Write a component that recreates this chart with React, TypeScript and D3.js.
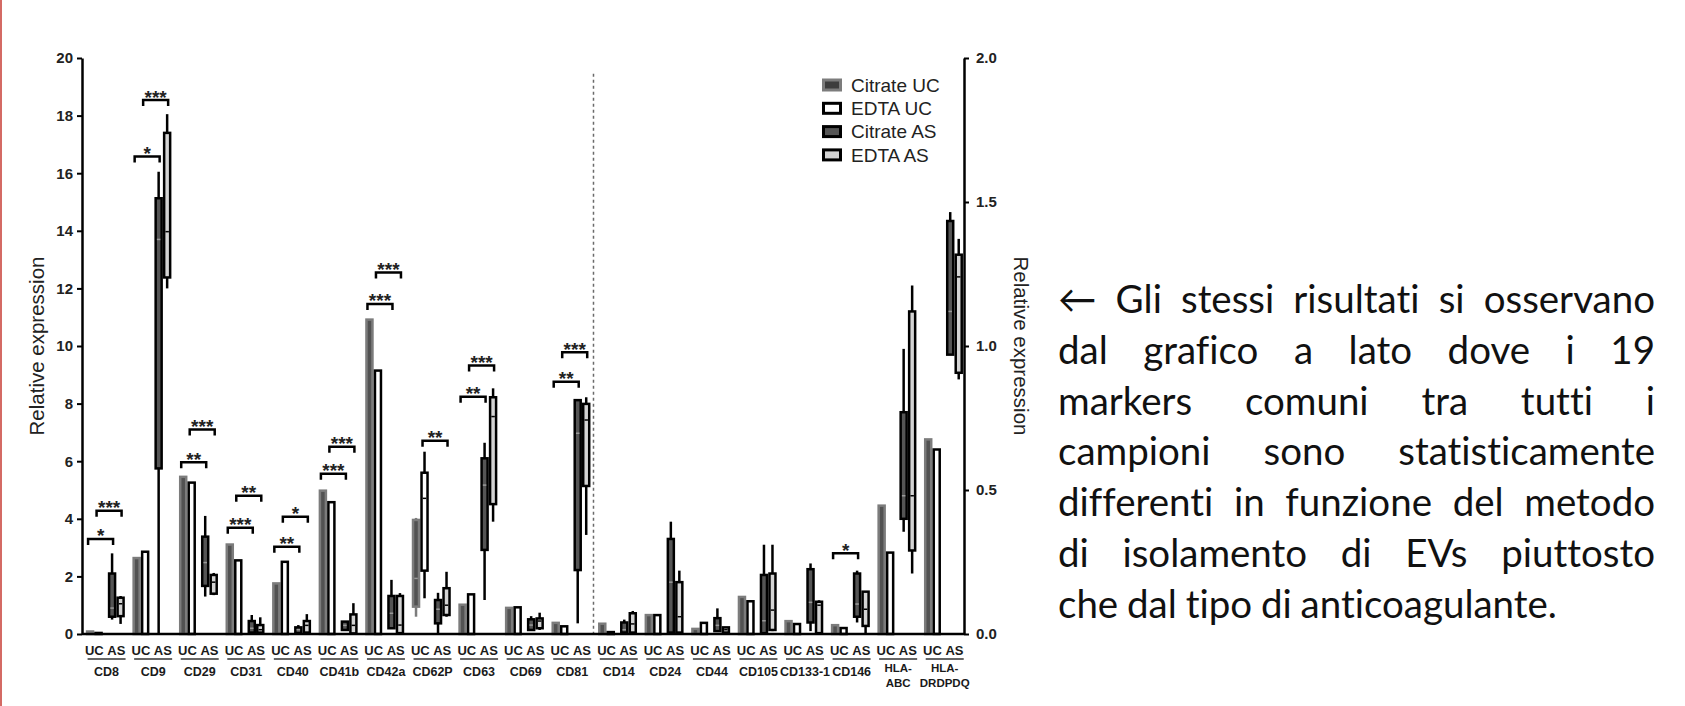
import React, { useEffect, useRef } from 'react';
import * as d3 from 'd3';

// a number is a bar height, an array is a box: [whiskerLow, q1, median, q3, whiskerHigh]
type Val = number | number[];

const categories = ['CD8', 'CD9', 'CD29', 'CD31', 'CD40', 'CD41b', 'CD42a', 'CD62P', 'CD63', 'CD69', 'CD81',
    'CD14', 'CD24', 'CD44', 'CD105', 'CD133-1', 'CD146', 'HLA-ABC', 'HLA-DRDPDQ'];
// markers right of the dotted line are read on the right axis (0 - 2.0)
const rightAxisCategories = ['CD14', 'CD24', 'CD44', 'CD105', 'CD133-1', 'CD146', 'HLA-ABC', 'HLA-DRDPDQ'];

const seriesNames = ['Citrate UC', 'EDTA UC', 'Citrate AS', 'EDTA AS'];

const citrateUC: Val[] = [0.13, 2.68, 5.5, 3.15, 1.8, 5.02, 10.96, [0.6, 0.95, 1.93, 3.96, 4.03], 1.06, 0.95, 0.43,
    0.04, 0.07, 0.022, 0.133, 0.049, 0.035, 0.45, 0.68];
const edtaUC: Val[] = [0.08, 2.9, 5.3, 2.6, 2.55, 4.62, 9.19, [1.24, 2.2, 4.71, 5.6, 6.33], 1.42, 0.97, 0.31,
    0.011, 0.07, 0.043, 0.118, 0.039, 0.025, 0.287, 0.645];
const citrateAS: Val[] = [
    [0.5, 0.6, 0.9, 2.1, 2.8], [0, 5.75, 13.7, 15.13, 16.05], [1.3, 1.67, 2.48, 3.38, 4.1], [0, 0.05, 0.2, 0.45, 0.66],
    [0, 0.03, 0.15, 0.23, 0.31], [0.14, 0.14, 0.3, 0.43, 0.43], [0.2, 0.2, 0.72, 1.32, 1.88], [0, 0.37, 0.86, 1.18, 1.43],
    [1.18, 2.92, 5.17, 6.1, 6.64], [0.14, 0.14, 0.31, 0.51, 0.62], [0.37, 2.22, 6.97, 8.12, 8.15],
    [0.005, 0.005, 0.015, 0.04, 0.05], [0, 0.005, 0.18, 0.33, 0.39], [0.01, 0.01, 0.03, 0.055, 0.089],
    [0, 0.003, 0.046, 0.205, 0.31], [0.01, 0.04, 0.11, 0.225, 0.245], [0.04, 0.06, 0.104, 0.21, 0.22],
    [0.355, 0.4, 0.48, 0.77, 0.99], [0.97, 0.97, 1.12, 1.434, 1.465]];
const edtaAS: Val[] = [
    [0.35, 0.62, 1.05, 1.26, 1.32], [12.0, 12.38, 13.97, 17.4, 18.05], [1.35, 1.4, 1.8, 2.05, 2.12], [0, 0.05, 0.15, 0.31, 0.58],
    [0, 0.05, 0.3, 0.45, 0.69], [0, 0.02, 0.3, 0.68, 1.07], [0, 0.03, 0.31, 1.32, 1.42], [0.6, 0.66, 1.0, 1.59, 2.16],
    [3.9, 4.51, 7.55, 8.22, 8.53], [0.14, 0.2, 0.45, 0.54, 0.74], [3.44, 5.14, 7.43, 7.99, 8.22],
    [0.005, 0.005, 0.035, 0.072, 0.08], [0, 0.005, 0.06, 0.18, 0.22], [0.005, 0.005, 0.015, 0.023, 0.023],
    [0.01, 0.014, 0.083, 0.21, 0.31], [0, 0.003, 0.1, 0.112, 0.117], [0, 0.028, 0.086, 0.147, 0.147],
    [0.21, 0.29, 0.48, 1.12, 1.21], [0.884, 0.907, 1.24, 1.317, 1.372]];

const leftTicks = [0, 2, 4, 6, 8, 10, 12, 14, 16, 18, 20];
const rightTicks = [0, 0.5, 1.0, 1.5, 2.0];

// UC vs AS comparisons (bracket level in axis units)
const significance = [
    { marker: 'CD8', pair: 'Citrate', level: 3.3, stars: '*' },
    { marker: 'CD8', pair: 'EDTA', level: 4.28, stars: '***' },
    { marker: 'CD9', pair: 'Citrate', level: 16.58, stars: '*' },
    { marker: 'CD9', pair: 'EDTA', level: 18.54, stars: '***' },
    { marker: 'CD29', pair: 'Citrate', level: 5.96, stars: '**' },
    { marker: 'CD29', pair: 'EDTA', level: 7.1, stars: '***' },
    { marker: 'CD31', pair: 'Citrate', level: 3.69, stars: '***' },
    { marker: 'CD31', pair: 'EDTA', level: 4.8, stars: '**' },
    { marker: 'CD40', pair: 'Citrate', level: 3.03, stars: '**' },
    { marker: 'CD40', pair: 'EDTA', level: 4.07, stars: '*' },
    { marker: 'CD41b', pair: 'Citrate', level: 5.56, stars: '***' },
    { marker: 'CD41b', pair: 'EDTA', level: 6.5, stars: '***' },
    { marker: 'CD42a', pair: 'Citrate', level: 11.46, stars: '***' },
    { marker: 'CD42a', pair: 'EDTA', level: 12.55, stars: '***' },
    { marker: 'CD62P', pair: 'EDTA', level: 6.71, stars: '**' },
    { marker: 'CD63', pair: 'Citrate', level: 8.24, stars: '**' },
    { marker: 'CD63', pair: 'EDTA', level: 9.32, stars: '***' },
    { marker: 'CD81', pair: 'Citrate', level: 8.76, stars: '**' },
    { marker: 'CD81', pair: 'EDTA', level: 9.78, stars: '***' },
    { marker: 'CD146', pair: 'Citrate', level: 0.28, stars: '*' },
];

const paragraph = [
    '\u2190 Gli stessi risultati si osservano',
    'dal grafico a lato dove i 19',
    'markers comuni tra tutti i',
    'campioni sono statisticamente',
    'differenti in funzione del metodo',
    'di isolamento di EVs piuttosto',
    'che dal tipo di anticoagulante.',
];

const seriesStyle: Record<string, { fill: string, stroke: string, median: string }> = {
    'Citrate UC': { fill: '#525252', stroke: '#7c7c7c', median: '#9a9a9a' },
    'EDTA UC': { fill: '#ffffff', stroke: '#000000', median: '#000000' },
    'Citrate AS': { fill: '#555555', stroke: '#000000', median: '#9a9a9a' },
    'EDTA AS': { fill: '#d4d4d4', stroke: '#000000', median: '#000000' },
};

function draw(svgEl: SVGSVGElement) {
    // SETTINGS
    const width = 1685;
    const height = 706;
    const axisLeftX = 82;
    const axisRightX = 964;
    const plotTop = 58;
    const baseY = 634;
    const barW = 8.5;
    const sw = 2.5;
    const font = '"Liberation Sans", Arial, sans-serif';

    const svg = d3.select(svgEl);
    svg.selectAll('*').remove();
    svg.append('rect').attr('width', width).attr('height', height).attr('fill', '#fff');
    svg.append('rect').attr('x', 0).attr('width', 2).attr('height', height).attr('fill', '#d46a64');

    // SCALES
    const x = d3.scaleBand<string>().domain(categories).range([83.3, 968]);
    const yLeft = d3.scaleLinear().domain([0, 20]).range([baseY, plotTop]);
    const yRight = d3.scaleLinear().domain([0, 2]).range([baseY, plotTop]);
    const yFor = (c: string) => (rightAxisCategories.includes(c) ? yRight : yLeft);
    const center = (c: string) => (x(c) as number) + x.bandwidth() / 2;
    const sub = d3.scaleOrdinal<string, number>().domain(seriesNames).range([-16.5, -8, 5.5, 14]);

    // DOTTED SEPARATOR
    svg.append('line')
        .attr('x1', (x('CD14') as number) - 2).attr('x2', (x('CD14') as number) - 2)
        .attr('y1', yLeft(19.45)).attr('y2', baseY)
        .attr('stroke', '#6a6a6a').attr('stroke-width', 1.5).attr('stroke-dasharray', '3,3');

    // BARS AND BOXES
    const seriesData = [citrateUC, edtaUC, citrateAS, edtaAS];
    seriesNames.forEach((name, si) => {
        const st = seriesStyle[name];
        const g = svg.append('g');
        seriesData[si].forEach((v, ci) => {
            const c = categories[ci];
            const y = yFor(c);
            const cx = center(c) + sub(name);
            if (typeof v === 'number') {
                g.append('rect')
                    .attr('x', cx - barW / 2 + sw / 2).attr('width', barW - sw)
                    .attr('y', y(v) + sw / 2).attr('height', Math.max(0.5, baseY - y(v) - sw / 2))
                    .attr('fill', st.fill).attr('stroke', st.stroke).attr('stroke-width', sw);
            } else {
                const [lo, q1, med, q3, hi] = v;
                g.append('line')
                    .attr('x1', cx).attr('x2', cx).attr('y1', y(lo)).attr('y2', y(hi))
                    .attr('stroke', st.stroke).attr('stroke-width', sw);
                g.append('rect')
                    .attr('x', cx - barW / 2 + sw / 2).attr('width', barW - sw)
                    .attr('y', y(q3)).attr('height', Math.max(0.5, y(q1) - y(q3)))
                    .attr('fill', st.fill).attr('stroke', st.stroke).attr('stroke-width', sw);
                g.append('line')
                    .attr('x1', cx - barW / 2 + sw).attr('x2', cx + barW / 2 - sw)
                    .attr('y1', y(med)).attr('y2', y(med))
                    .attr('stroke', st.median).attr('stroke-width', 1.5);
            }
        });
    });

    // AXES
    svg.append('line')
        .attr('x1', axisLeftX).attr('x2', axisRightX).attr('y1', baseY).attr('y2', baseY)
        .attr('stroke', '#000').attr('stroke-width', sw);

    const gl = svg.append('g').attr('transform', `translate(${axisLeftX},0)`)
        .call(d3.axisLeft(yLeft).tickValues(leftTicks).tickFormat(d3.format('d'))
            .tickSize(5).tickSizeOuter(0).tickPadding(4));
    const gr = svg.append('g').attr('transform', `translate(${axisRightX},0)`)
        .call(d3.axisRight(yRight).tickValues(rightTicks).tickFormat(d3.format('.1f'))
            .tickSize(5).tickSizeOuter(0).tickPadding(7));
    [gl, gr].forEach(g => {
        g.select('.domain').attr('stroke-width', sw);
        g.selectAll('.tick line').attr('stroke-width', 2);
        g.selectAll('.tick text')
            .attr('font-family', font).attr('font-size', 15).attr('font-weight', 'bold').attr('fill', '#222');
    });

    svg.append('text')
        .attr('transform', `translate(37,${(plotTop + baseY) / 2}) rotate(-90)`)
        .attr('text-anchor', 'middle').attr('dy', '0.35em')
        .attr('font-family', font).attr('font-size', 20.5).attr('fill', '#222')
        .text('Relative expression');
    svg.append('text')
        .attr('transform', `translate(1021,${(plotTop + baseY) / 2}) rotate(90)`)
        .attr('text-anchor', 'middle').attr('dy', '0.35em')
        .attr('font-family', font).attr('font-size', 20.5).attr('fill', '#222')
        .text('Relative expression');

    // SIGNIFICANCE BRACKETS
    const br = svg.append('g');
    significance.forEach(s => {
        const y = yFor(s.marker)(s.level);
        const from = s.pair + ' UC';
        const to = s.pair + ' AS';
        const x1 = center(s.marker) + sub(from) - 2;
        const x2 = center(s.marker) + sub(to) + 1;
        br.append('path')
            .attr('d', `M${x1},${y + 6}V${y}H${x2}V${y + 6}`)
            .attr('fill', 'none').attr('stroke', '#000').attr('stroke-width', sw);
        br.append('text')
            .attr('x', (x1 + x2) / 2).attr('y', y + 3.5)
            .attr('text-anchor', 'middle')
            .attr('font-family', font).attr('font-size', 19).attr('font-weight', 'bold').attr('fill', '#222')
            .text(s.stars);
    });

    // CATEGORY LABELS
    const lab = svg.append('g').attr('font-family', font).attr('font-weight', 'bold').attr('fill', '#1a1a1a');
    categories.forEach(c => {
        const cx = center(c);
        lab.append('text').attr('x', cx + (sub('Citrate UC') + sub('EDTA UC')) / 2).attr('y', 655)
            .attr('text-anchor', 'middle').attr('font-size', 13).text('UC');
        lab.append('text').attr('x', cx + (sub('Citrate AS') + sub('EDTA AS')) / 2).attr('y', 655)
            .attr('text-anchor', 'middle').attr('font-size', 13).text('AS');
        lab.append('line').attr('x1', cx - 19).attr('x2', cx + 19).attr('y1', 659).attr('y2', 659)
            .attr('stroke', '#333').attr('stroke-width', 1.5);
        if (c.startsWith('HLA-')) {
            lab.append('text').attr('x', cx).attr('y', 672).attr('text-anchor', 'middle')
                .attr('font-size', 11.5).text('HLA-');
            lab.append('text').attr('x', cx).attr('y', 687).attr('text-anchor', 'middle')
                .attr('font-size', 11.5).text(c.slice(4));
        } else {
            lab.append('text').attr('x', cx).attr('y', 676).attr('text-anchor', 'middle')
                .attr('font-size', 12.5).text(c);
        }
    });

    // LEGEND
    const legend = svg.append('g').attr('transform', 'translate(822,85)');
    seriesNames.forEach((name, i) => {
        const st = seriesStyle[name];
        const row = legend.append('g').attr('transform', `translate(0,${i * 23.3})`);
        row.append('rect').attr('x', 1.5).attr('y', -5).attr('width', 17).attr('height', 10)
            .attr('fill', i === 0 ? '#3d3d3d' : st.fill).attr('stroke', st.stroke).attr('stroke-width', 3);
        row.append('text').attr('x', 29).attr('dy', '0.36em')
            .attr('font-family', font).attr('font-size', 19).attr('fill', '#222').text(name);
    });

    // PARAGRAPH (justified word by word)
    const textLeft = 1058;
    const textRight = 1655;
    const lastLineWidth = 503;
    const pg = svg.append('g').attr('font-family', 'Lato, "Open Sans", sans-serif').attr('fill', '#111')
        .style('font-variant-ligatures', 'none');
    const probe = pg.append('text').attr('font-size', 100).text(paragraph[paragraph.length - 1]);
    const fs = 100 * lastLineWidth / (probe.node() as SVGTextElement).getComputedTextLength();
    probe.remove();
    pg.attr('font-size', fs);
    paragraph.forEach((line, i) => {
        const baseline = 313 + i * 50.8;
        const words = line.split(' ');
        const texts = words.map(w => pg.append('text').attr('y', baseline).text(w));
        const widths = texts.map(t => (t.node() as SVGTextElement).getComputedTextLength());
        const total = d3.sum(widths);
        const last = i === paragraph.length - 1;
        const gap = last ? fs * 0.23 : (textRight - textLeft - total) / (words.length - 1);
        let xPos = textLeft;
        texts.forEach((t, j) => {
            t.attr('x', xPos);
            xPos += widths[j] + gap;
        });
    });
}

export default function App() {
    const ref = useRef<SVGSVGElement>(null);

    useEffect(() => {
        if (ref.current) draw(ref.current);
    }, []);

    return (
        <svg ref={ref} width={1685} height={706}
            style={{ position: 'absolute', left: 0, top: 0, display: 'block' }} />
    );
}
